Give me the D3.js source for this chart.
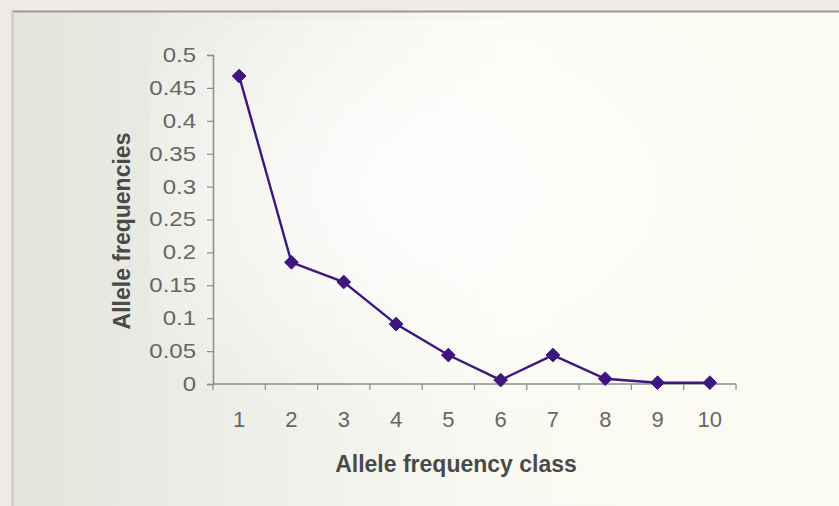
<!DOCTYPE html>
<html>
<head>
<meta charset="utf-8">
<script src="https://cdn.jsdelivr.net/npm/d3@7"></script>
<style>
  html, body { margin: 0; padding: 0; background: #ede6e2; }
  svg { display: block; }
</style>
</head>
<body>
<svg id="chart" width="839" height="506"></svg>
<script>
// Allele frequency spectrum by frequency class
const classes = [1, 2, 3, 4, 5, 6, 7, 8, 9, 10];
const frequencies = [0.468, 0.185, 0.155, 0.091, 0.044, 0.006, 0.044, 0.008, 0.002, 0.002];
const yTicks = [0, 0.05, 0.1, 0.15, 0.2, 0.25, 0.3, 0.35, 0.4, 0.45, 0.5];
const yTickLabels = ["0", "0.05", "0.1", "0.15", "0.2", "0.25", "0.3", "0.35", "0.4", "0.45", "0.5"];

const W = 839, H = 506;
const FONT = "'Liberation Sans', Arial, sans-serif";
const svg = d3.select("#chart");
const defs = svg.append("defs");

// panel background: greyish on the left fading to cream on the right
const bg = defs.append("linearGradient").attr("id", "panelBg")
  .attr("x1", "0%").attr("x2", "100%").attr("y1", "0%").attr("y2", "0%");
bg.append("stop").attr("offset", "0%").attr("stop-color", "#e3e5dc");
bg.append("stop").attr("offset", "30%").attr("stop-color", "#eeefe9");
bg.append("stop").attr("offset", "60%").attr("stop-color", "#fafaf4");
bg.append("stop").attr("offset", "100%").attr("stop-color", "#fbfbf1");

const glow = defs.append("radialGradient").attr("id", "plotGlow")
  .attr("cx", "45%").attr("cy", "40%").attr("r", "60%");
glow.append("stop").attr("offset", "0%").attr("stop-color", "#ffffff").attr("stop-opacity", 0.9);
glow.append("stop").attr("offset", "100%").attr("stop-color", "#ffffff").attr("stop-opacity", 0);

// outer margin strip
svg.append("rect").attr("x", 0).attr("y", 0).attr("width", W).attr("height", H).attr("fill", "#f0ebe4");
// chart panel
svg.append("rect").attr("x", 12).attr("y", 11).attr("width", W - 12).attr("height", H - 11)
  .attr("fill", "url(#panelBg)");
svg.append("rect").attr("x", 150).attr("y", 20).attr("width", 640).attr("height", 420)
  .attr("fill", "url(#plotGlow)");
// panel frame (top and left edges)
svg.append("line").attr("x1", 12).attr("x2", W).attr("y1", 11.5).attr("y2", 11.5)
  .attr("stroke", "#9a9a98").attr("stroke-width", 2);
svg.append("line").attr("x1", 12.5).attr("x2", 12.5).attr("y1", 11).attr("y2", H)
  .attr("stroke", "#c8c6c0").attr("stroke-width", 2);

const plot = { left: 213, right: 736, top: 55, bottom: 384 };

const x = d3.scaleBand().domain(classes).range([plot.left, plot.right]);
const y = d3.scaleLinear().domain([0, 0.5]).range([plot.bottom, plot.top]);

const axisColor = "#8c8c8c";
const textColor = "#666666";
const titleColor = "#4a4a4a";

// y axis
const yAxis = svg.append("g").attr("transform", `translate(${plot.left},0)`)
  .call(d3.axisLeft(y).tickValues(yTicks).tickFormat((d, i) => yTickLabels[i])
    .tickSizeOuter(0).tickSize(6).tickPadding(10));
yAxis.select(".domain").attr("stroke", axisColor).attr("stroke-width", 1.5);
yAxis.selectAll(".tick line").attr("stroke", axisColor).attr("stroke-width", 1.2);
const yStretch = 1.2;
yAxis.selectAll(".tick text").attr("fill", textColor)
  .attr("x", -17 / yStretch)
  .attr("transform", `scale(${yStretch},1)`)
  .style("font-family", FONT).style("font-size", "20px");

// x axis: category labels centred in bands, tick marks on band boundaries
const xAxis = svg.append("g").attr("transform", `translate(0,${plot.bottom})`)
  .call(d3.axisBottom(x).tickSize(0).tickPadding(0));
xAxis.select(".domain").remove();
xAxis.selectAll(".tick text").attr("fill", textColor)
  .attr("y", 43).attr("dy", null)
  .style("font-family", FONT).style("font-size", "22px");
svg.append("line").attr("x1", plot.left).attr("x2", plot.right)
  .attr("y1", plot.bottom).attr("y2", plot.bottom)
  .attr("stroke", axisColor).attr("stroke-width", 1.5);
const boundaries = classes.map(c => x(c)).concat([x(classes[classes.length - 1]) + x.bandwidth()]);
svg.append("g").selectAll("line").data(boundaries).join("line")
  .attr("x1", d => d).attr("x2", d => d)
  .attr("y1", plot.bottom).attr("y2", plot.bottom + 6)
  .attr("stroke", axisColor).attr("stroke-width", 1.2);

// axis titles
svg.append("text")
  .attr("transform", `translate(130,231) rotate(-90)`)
  .attr("text-anchor", "middle")
  .attr("fill", titleColor)
  .style("font-family", FONT)
  .style("font-size", "23px").style("font-weight", "bold")
  .text("Allele frequencies");
svg.append("text")
  .attr("x", 456).attr("y", 472)
  .attr("text-anchor", "middle")
  .attr("fill", titleColor)
  .style("font-family", FONT)
  .style("font-size", "23px").style("font-weight", "bold")
  .text("Allele frequency class");

// data line and diamond markers
const seriesColor = "#3d1680";
const pts = classes.map((c, i) => ({ c, v: frequencies[i] }));
const cx = d => x(d.c) + x.bandwidth() / 2;

svg.append("path").datum(pts)
  .attr("fill", "none").attr("stroke", seriesColor).attr("stroke-width", 2.4)
  .attr("d", d3.line().x(cx).y(d => y(d.v)));

svg.append("g").selectAll("path").data(pts).join("path")
  .attr("transform", d => `translate(${cx(d)},${y(d.v)})`)
  .attr("d", d3.symbol().type(d3.symbolDiamond2).size(120))
  .attr("fill", seriesColor).attr("stroke", seriesColor).attr("stroke-width", 1);
</script>
</body>
</html>
